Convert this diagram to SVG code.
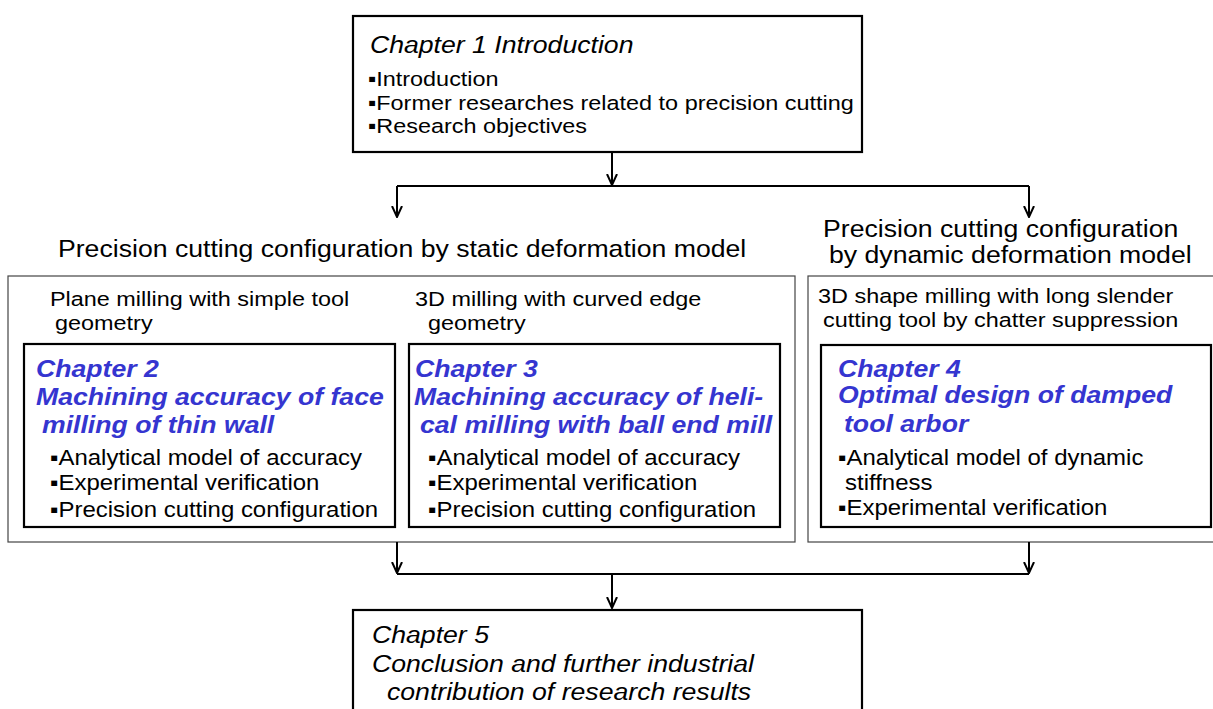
<svg xmlns="http://www.w3.org/2000/svg" width="1213" height="709" viewBox="0 0 1213 709">
<defs>
<marker id="ah" viewBox="0 0 12 12" refX="11" refY="6" markerWidth="12" markerHeight="12" markerUnits="userSpaceOnUse" orient="auto">
<path d="M0,1 L11,6 L0,11" fill="none" stroke="#000" stroke-width="2"/>
</marker>
<style>
text{font-family:"Liberation Sans",Arial,sans-serif;fill:#000}
.h{font-size:24px}
.it{font-style:italic;font-size:24px}
.bl{font-style:italic;font-weight:bold;font-size:24px;fill:#3535D0}
.s{font-size:21.1px}
.b{font-size:21.6px}
.thin{fill:#fff;stroke:#444;stroke-width:1.2}
.thick{fill:#fff;stroke:#000;stroke-width:2.2}
.c{fill:none;stroke:#000;stroke-width:2}
</style>
</defs>
<rect width="1213" height="709" fill="#fff"/>
<g id="ch1">
<rect class="thick" x="353" y="16" width="509" height="136"/>
<g transform="scale(1.11,1)">
<text class="it" x="333.3" y="53">Chapter 1 Introduction</text>
<text class="s" x="331.5" y="86">▪Introduction</text>
<text class="s" x="331.5" y="110">▪Former researches related to precision cutting</text>
<text class="s" x="331.5" y="133">▪Research objectives</text>
</g>
</g>
<g id="static">
<rect class="thin" x="8" y="276" width="787" height="266"/>
<g transform="scale(1.11,1)">
<text class="h" x="52.25" y="257">Precision cutting configuration by static deformation model</text>
<text class="s" x="45.05" y="306">Plane milling with simple tool</text>
<text class="s" x="49.55" y="330">geometry</text>
<text class="s" x="373.9" y="306">3D milling with curved edge</text>
<text class="s" x="385.6" y="330">geometry</text>
</g>
</g>
<g id="ch2">
<rect class="thick" x="24" y="344" width="371" height="183"/>
<g transform="scale(1.11,1)">
<text class="bl" x="32.43" y="377">Chapter 2</text>
<text class="bl" x="32.43" y="405">Machining accuracy of face</text>
<text class="bl" x="37.84" y="433">milling of thin wall</text>
<text class="b" x="45.05" y="465">▪Analytical model of accuracy</text>
<text class="b" x="45.05" y="490">▪Experimental verification</text>
<text class="b" x="45.05" y="517">▪Precision cutting configuration</text>
</g>
</g>
<g id="ch3">
<rect class="thick" x="409" y="344" width="371" height="183"/>
<g transform="scale(1.11,1)">
<text class="bl" x="373.9" y="377">Chapter 3</text>
<text class="bl" x="372.97" y="405">Machining accuracy of heli-</text>
<text class="bl" x="378.38" y="433">cal milling with ball end mill</text>
<text class="b" x="385.6" y="465">▪Analytical model of accuracy</text>
<text class="b" x="385.6" y="490">▪Experimental verification</text>
<text class="b" x="385.6" y="517">▪Precision cutting configuration</text>
</g>
</g>
<g id="dynamic">
<rect class="thin" x="808" y="276" width="410" height="266"/>
<g transform="scale(1.11,1)">
<text class="h" x="741.44" y="237">Precision cutting configuration</text>
<text class="h" x="746.85" y="263">by dynamic deformation model</text>
<text class="s" x="736.94" y="303">3D shape milling with long slender</text>
<text class="s" x="741.44" y="327">cutting tool by chatter suppression</text>
</g>
</g>
<g id="ch4">
<rect class="thick" x="821" y="345" width="390" height="182"/>
<g transform="scale(1.11,1)">
<text class="bl" x="754.95" y="377">Chapter 4</text>
<text class="bl" x="754.95" y="403">Optimal design of damped</text>
<text class="bl" x="760.36" y="432">tool arbor</text>
<text class="b" x="754.95" y="465">▪Analytical model of dynamic</text>
<text class="b" x="761.26" y="490">stiffness</text>
<text class="b" x="754.95" y="515">▪Experimental verification</text>
</g>
</g>
<g id="ch5">
<rect class="thick" x="353" y="610" width="509" height="110"/>
<g transform="scale(1.11,1)">
<text class="it" x="335.14" y="643">Chapter 5</text>
<text class="it" x="335.14" y="672">Conclusion and further industrial</text>
<text class="it" x="348.65" y="700">contribution of research results</text>
</g>
</g>
<g id="connectors">
<path class="c" d="M612,152 V185" marker-end="url(#ah)"/>
<path class="c" d="M397,186 H1029"/>
<path class="c" d="M397,186 V217" marker-end="url(#ah)"/>
<path class="c" d="M1029,186 V217" marker-end="url(#ah)"/>
<path class="c" d="M397,542 V573" marker-end="url(#ah)"/>
<path class="c" d="M1029,542 V573" marker-end="url(#ah)"/>
<path class="c" d="M397,574 H1029"/>
<path class="c" d="M612,574 V608" marker-end="url(#ah)"/>
</g>
</svg>
